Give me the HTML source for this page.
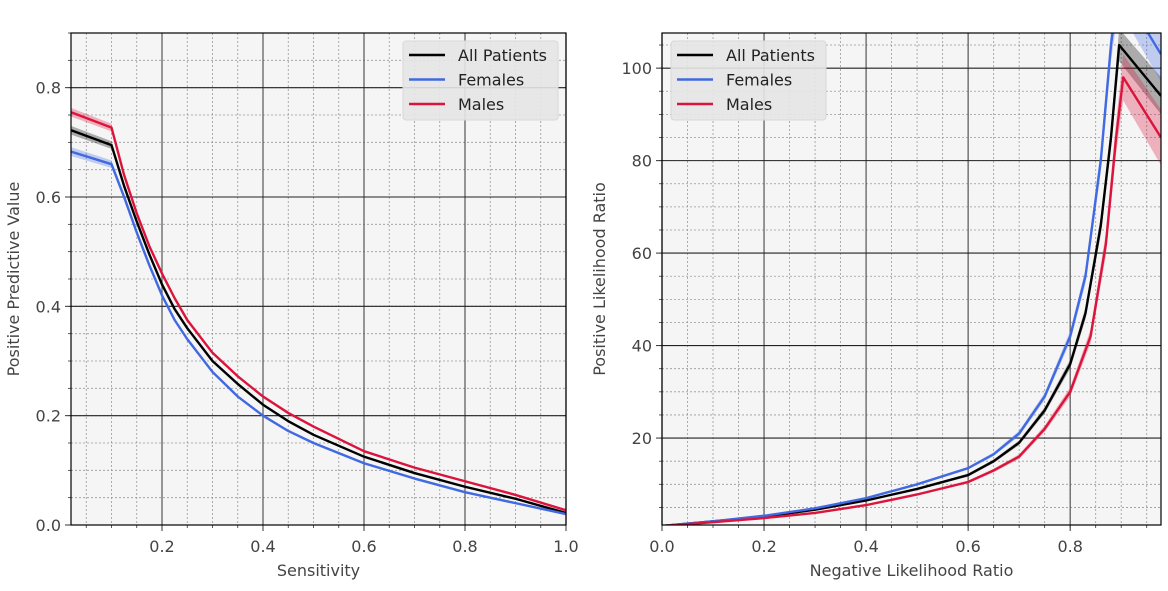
<!DOCTYPE html>
<html><head><meta charset="utf-8"><style>
body{margin:0;background:#fff;width:1168px;height:586px;overflow:hidden}
svg text{font-family:"DejaVu Sans","Liberation Sans",sans-serif;fill:#444}
</style></head><body>
<svg id="c" width="1168" height="586" xmlns="http://www.w3.org/2000/svg"></svg>
<script>
// Left chart data: PPV vs Sensitivity
const leftSeriesNames = ["All Patients","Females","Males"];
const leftX = [0.02,0.10,0.125,0.15,0.175,0.2,0.225,0.25,0.3,0.35,0.4,0.45,0.5,0.6,0.7,0.8,0.9,1.0];
const leftAll = [0.722,0.695,0.62,0.555,0.495,0.44,0.395,0.36,0.30,0.258,0.22,0.19,0.165,0.125,0.095,0.07,0.048,0.022];
const leftFemales = [0.683,0.66,0.6,0.535,0.475,0.42,0.375,0.34,0.28,0.235,0.2,0.172,0.15,0.113,0.085,0.06,0.04,0.02];
const leftMales = [0.755,0.727,0.64,0.57,0.51,0.46,0.415,0.375,0.315,0.272,0.235,0.205,0.18,0.135,0.105,0.08,0.055,0.027];
const leftBand = [0.008,0.007,0.006,0.005,0.004,0.004,0.003,0.003,0.003,0.002,0.002,0.002,0.002,0.002,0.002,0.002,0.002,0.002];
const leftXTicks = ["0.2","0.4","0.6","0.8","1.0"];
const leftYTicks = ["0.0","0.2","0.4","0.6","0.8"];
// Right chart data: PLR vs NLR
const rightAllX = [0,0.1,0.2,0.3,0.4,0.5,0.6,0.65,0.7,0.75,0.8,0.83,0.86,0.88,0.896,0.978];
const rightAllY = [1,2,3,4.5,6.5,9,12,15,19,26,36,47,66,85,105,94];
const rightAllBand = [0,0,0,0,0.1,0.2,0.3,0.4,0.5,0.7,1,1.3,2,2.5,3.5,4];
const rightFemX = [0,0.1,0.2,0.3,0.4,0.5,0.6,0.65,0.7,0.75,0.8,0.83,0.86,0.88,0.895,0.978];
const rightFemY = [1,2,3.2,4.8,7,10,13.5,16.5,21,29,42,55,80,105,118,103];
const rightFemBand = [0,0,0,0,0.1,0.2,0.3,0.4,0.6,0.8,1.2,1.6,2.5,3.5,5,6];
const rightMaleX = [0,0.1,0.2,0.3,0.4,0.5,0.6,0.65,0.7,0.75,0.8,0.84,0.87,0.89,0.904,0.978];
const rightMaleY = [1,1.8,2.7,3.8,5.5,7.8,10.5,13,16,22,30,42,62,85,98,85];
const rightMaleBand = [0,0,0,0,0.1,0.2,0.3,0.4,0.5,0.7,1,1.5,2.5,3.5,5,6];
const rightXTicks = ["0.0","0.2","0.4","0.6","0.8"];
const rightYTicks = ["20","40","60","80","100"];

const NS="http://www.w3.org/2000/svg";
const svg=document.getElementById('c');
function mk(tag,attrs,parent){const e=document.createElementNS(NS,tag);for(const k in attrs)e.setAttribute(k,attrs[k]);(parent||svg).appendChild(e);return e;}
const colors={"All Patients":"#000","Females":"#4169e1","Males":"#dc143c"};

function panel(o){
  const sx=v=>o.x0+(v-o.xmin)/(o.xmax-o.xmin)*(o.x1-o.x0);
  const sy=v=>o.y1-(v-o.ymin)/(o.ymax-o.ymin)*(o.y1-o.y0);
  const g=mk('g',{});
  
  
  mk('rect',{x:o.x0,y:o.y0,width:o.x1-o.x0,height:o.y1-o.y0,fill:'#f5f5f5'},g);
  const cid='clip'+o.name;
  const cp=mk('clipPath',{id:cid},g);mk('rect',{x:o.x0,y:o.y0,width:o.x1-o.x0,height:o.y1-o.y0},cp);
  for(let v=Math.ceil(o.xmin/o.xminor)*o.xminor;v<=o.xmax+1e-9;v+=o.xminor){const x=sx(v);mk('line',{x1:x,x2:x,y1:o.y0,y2:o.y1,stroke:'#999','stroke-width':0.8,'stroke-dasharray':'2,2'},g);mk('line',{x1:x,x2:x,y1:o.y1,y2:o.y1+3,stroke:'#333','stroke-width':0.8},g);}
  for(let v=Math.ceil(o.ymin/o.yminor)*o.yminor;v<=o.ymax+1e-9;v+=o.yminor){const y=sy(v);mk('line',{x1:o.x0,x2:o.x1,y1:y,y2:y,stroke:'#999','stroke-width':0.8,'stroke-dasharray':'2,2'},g);mk('line',{x1:o.x0-3,x2:o.x0,y1:y,y2:y,stroke:'#333','stroke-width':0.8},g);}
  o.xticks.forEach(t=>{const x=sx(parseFloat(t));mk('line',{x1:x,x2:x,y1:o.y0,y2:o.y1,stroke:'#555','stroke-width':1.2},g);mk('line',{x1:x,x2:x,y1:o.y1,y2:o.y1+6,stroke:'#333','stroke-width':1},g);const tx=mk('text',{x:x,y:o.y1+27,'text-anchor':'middle','font-size':16},g);tx.textContent=t;});
  o.yticks.forEach(t=>{const y=sy(parseFloat(t));mk('line',{x1:o.x0,x2:o.x1,y1:y,y2:y,stroke:'#222','stroke-width':1.1},g);mk('line',{x1:o.x0-6,x2:o.x0,y1:y,y2:y,stroke:'#333','stroke-width':1},g);const tx=mk('text',{x:o.x0-10,y:y+6,'text-anchor':'end','font-size':16},g);tx.textContent=t;});
  o.series.forEach(s=>{
    const up=s.x.map((v,i)=>sx(v)+','+sy(s.y[i]+s.b[i])).join(' ');
    const dn=s.x.map((v,i)=>sx(v)+','+sy(s.y[i]-s.b[i])).reverse().join(' ');
    const band=mk('polygon',{points:up+' '+dn,fill:colors[s.n],'fill-opacity':0.3,'clip-path':'url(#'+cid+')'},g);
    
    const pl=mk('polyline',{points:s.x.map((v,i)=>sx(v)+','+sy(s.y[i])).join(' '),fill:'none',stroke:colors[s.n],'stroke-width':2.4,'stroke-linejoin':'round','clip-path':'url(#'+cid+')'},g);
    
  });
  mk('rect',{x:o.x0,y:o.y0,width:o.x1-o.x0,height:o.y1-o.y0,fill:'none',stroke:'#000','stroke-width':1.2},g);
  const xl=mk('text',{x:(o.x0+o.x1)/2,y:576,'text-anchor':'middle','font-size':16},g);xl.textContent=o.xlabel;
  
  const yl=mk('text',{x:0,y:0,'text-anchor':'middle','font-size':16,transform:`translate(${o.ylx},${(o.y0+o.y1)/2}) rotate(-90)`},g);yl.textContent=o.ylabel;
  
  const lg=mk('g',{},g);
  
  mk('rect',{x:o.lx,y:41,width:155,height:79,rx:3,fill:'#e5e5e5','fill-opacity':0.9,stroke:'#d8d8d8'},lg);
  leftSeriesNames.forEach((n,i)=>{const y=55+i*24.5;
    const e=mk('g',{},lg);
    mk('line',{x1:o.lx+6,x2:o.lx+42,y1:y,y2:y,stroke:colors[n],'stroke-width':2.5},e);
    const t=mk('text',{x:o.lx+55,y:y+6,'font-size':16,style:'fill:#222'},e);t.textContent=n;});
}
panel({name:'ppv-panel',x0:71,x1:566,y0:33,y1:525,xmin:0.0198,xmax:1.0,ymin:0,ymax:0.9,xminor:0.05,yminor:0.05,
  xticks:leftXTicks,yticks:leftYTicks,xlabel:'Sensitivity',ylabel:'Positive Predictive Value',ylx:19,lx:403,
  series:[{n:'All Patients',x:leftX,y:leftAll,b:leftBand},{n:'Females',x:leftX,y:leftFemales,b:leftBand},{n:'Males',x:leftX,y:leftMales,b:leftBand}]});
panel({name:'plr-panel',x0:662,x1:1161,y0:33,y1:525,xmin:0,xmax:0.978,ymin:1.2,ymax:107.6,xminor:0.05,yminor:5,
  xticks:rightXTicks,yticks:rightYTicks,xlabel:'Negative Likelihood Ratio',ylabel:'Positive Likelihood Ratio',ylx:605,lx:671,
  series:[{n:'All Patients',x:rightAllX,y:rightAllY,b:rightAllBand},{n:'Females',x:rightFemX,y:rightFemY,b:rightFemBand},{n:'Males',x:rightMaleX,y:rightMaleY,b:rightMaleBand}]});
</script>
</body></html>
